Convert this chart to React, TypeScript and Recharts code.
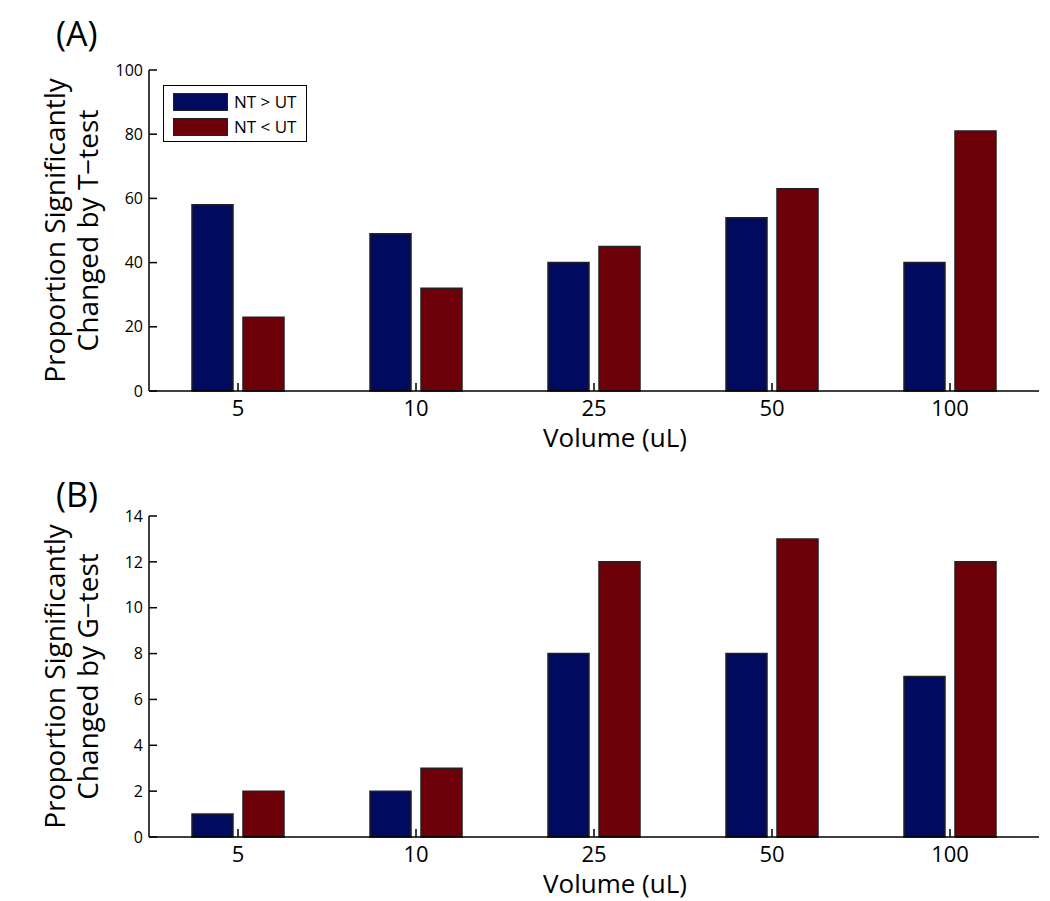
import React from 'react';
import { BarChart, Bar, XAxis, YAxis, Legend } from 'recharts';

const volumes = ['5', '10', '25', '50', '100'];
const tTestUp = [58, 49, 40, 54, 40];
const tTestDown = [23, 32, 45, 63, 81];
const gTestUp = [1, 2, 8, 8, 7];
const gTestDown = [2, 3, 12, 13, 12];
const tTicks = [0, 20, 40, 60, 80, 100];
const gTicks = [0, 2, 4, 6, 8, 10, 12, 14];
const seriesNames = ['NT > UT', 'NT < UT'];

const BLUE = '#000a5e';
const RED = '#6b0009';
const FONT = '"Open Sans", sans-serif';

const YTitle = ({ viewBox, lines }: any) => {
  const { x, y, height } = viewBox;
  const cy = y + height / 2;
  return (
    <g>
      {lines.map((line: string, i: number) => {
        const cx = x - 35 + i * 33;
        return (
          <text key={i} x={cx} y={cy} transform={`rotate(-90 ${cx} ${cy})`} textAnchor="middle"
            dominantBaseline="central" fontSize={28} fontFamily={FONT} fill="#000">
            {line}
          </text>
        );
      })}
    </g>
  );
};

const XTitle = ({ viewBox }: any) => {
  const { x, y, width } = viewBox;
  return (
    <text x={x + width / 2 + 21} y={y + 56} textAnchor="middle" fontSize={26} fontFamily={FONT} fill="#000">
      Volume (uL)
    </text>
  );
};

const LegendBox = ({ payload }: any) => {
  const items = [...(payload || [])].sort(
    (a: any, b: any) => seriesNames.indexOf(a.value) - seriesNames.indexOf(b.value));
  return (
    <div style={{
      border: '1.5px solid #000', background: '#fff', boxSizing: 'border-box', width: 144, height: 57,
      padding: '3px 9px', fontFamily: FONT, fontSize: 17, color: '#000',
    }}>
      {items.map((entry: any) => (
        <div key={entry.value} style={{ display: 'flex', alignItems: 'center', height: 25 }}>
          <span style={{
            display: 'inline-block', width: 55, height: 18, background: entry.color,
            border: '1.5px solid #222', boxSizing: 'border-box', marginRight: 6,
          }} />
          <span>{entry.value}</span>
        </div>
      ))}
    </div>
  );
};

interface PanelProps {
  tag: string;
  tagTop: number;
  up: number[];
  down: number[];
  ticks: number[];
  testName: string;
  height: number;
  marginTop: number;
  axisHeight: number;
  showLegend?: boolean;
}

const axisStroke = { stroke: '#000', strokeWidth: 1.5 };

const Panel: React.FC<PanelProps> = ({ tag, tagTop, up, down, ticks, testName, height, marginTop, axisHeight, showLegend }) => {
  const data = volumes.map((v, i) => ({ volume: v, up: up[i], down: down[i] }));
  const max = ticks[ticks.length - 1];
  return (
    <div style={{ position: 'relative', width: 1050, height }}>
      <div style={{ position: 'absolute', left: 56, top: tagTop, fontFamily: FONT, fontSize: 34, lineHeight: 1 }}>
        {tag}
      </div>
      <BarChart width={1050} height={height} data={data} barGap={10}
        margin={{ top: marginTop, right: 11, bottom: 0, left: 89 }}>
        <XAxis xAxisId="bottom" dataKey="volume" height={axisHeight} interval={0} tickSize={-8} tickMargin={17}
          tick={{ fontSize: 22, fill: '#000', fontFamily: FONT }} axisLine={axisStroke} tickLine={axisStroke}
          label={{ content: (p: any) => <XTitle {...p} /> }} />
        <XAxis xAxisId="top" dataKey="volume" orientation="top" height={0} interval={0} tickSize={-8}
          tickFormatter={() => ''} axisLine={axisStroke} tickLine={axisStroke} />
        <YAxis yAxisId="left" domain={[0, max]} ticks={ticks} interval={0} width={60} tickSize={-8} tickMargin={14}
          tick={{ fontSize: 16, fill: '#000', fontFamily: FONT }} axisLine={axisStroke} tickLine={axisStroke}
          label={{ content: (p: any) => <YTitle {...p} lines={['Proportion Significantly', `Changed by ${testName}`]} /> }} />
        <YAxis yAxisId="right" orientation="right" domain={[0, max]} ticks={ticks} interval={0} width={0} tickSize={-8}
          tickFormatter={() => ''} axisLine={axisStroke} tickLine={axisStroke} />
        {showLegend && (
          <Legend content={<LegendBox />} layout="horizontal" verticalAlign="middle" align="center"
            wrapperStyle={{ left: 163, top: 85, width: 144, height: 57 }} />
        )}
        <Bar dataKey="up" name={seriesNames[0]} xAxisId="bottom" yAxisId="left" fill={BLUE} stroke="#222"
          strokeWidth={1.5} barSize={41} isAnimationActive={false} />
        <Bar dataKey="down" name={seriesNames[1]} xAxisId="bottom" yAxisId="left" fill={RED} stroke="#222"
          strokeWidth={1.5} barSize={41} isAnimationActive={false} />
      </BarChart>
    </div>
  );
};

export default function App() {
  return (
    <div style={{ position: 'absolute', left: 0, top: 0, width: 1050, height: 901, background: '#fff' }}>
      <Panel tag="(A)" tagTop={16} up={tTestUp} down={tTestDown} ticks={tTicks} testName="T−test"
        height={462} marginTop={70} axisHeight={71} showLegend />
      <Panel tag="(B)" tagTop={15} up={gTestUp} down={gTestDown} ticks={gTicks} testName="G−test"
        height={439} marginTop={54} axisHeight={64} />
    </div>
  );
}
